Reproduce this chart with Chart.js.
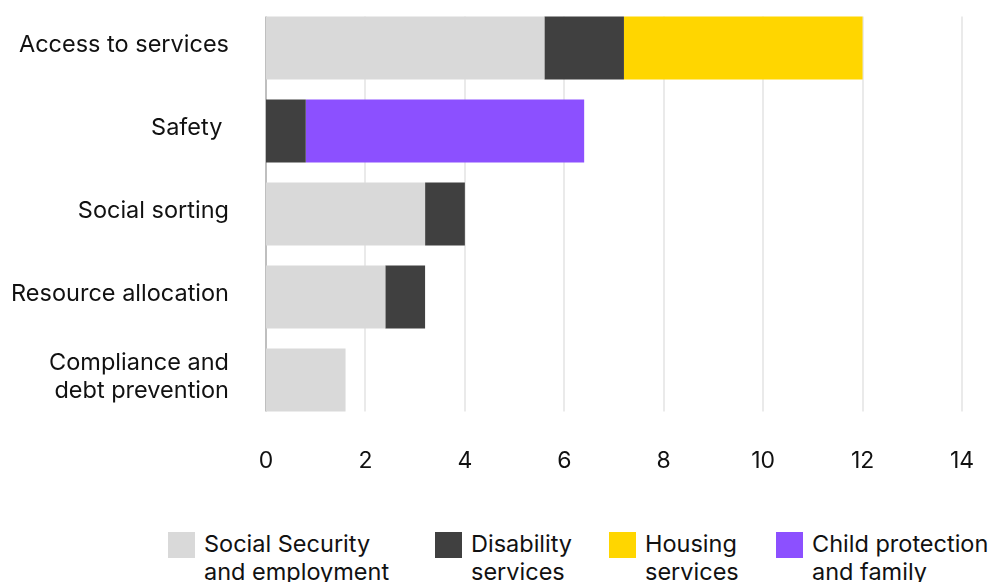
<!DOCTYPE html>
<html>
<head>
<meta charset="utf-8">
<script src="https://cdn.jsdelivr.net/npm/chart.js@4/dist/chart.umd.min.js"></script>
<style>
  html, body { margin: 0; padding: 0; background: #fff; overflow: hidden; }
  #wrap { position: relative; width: 992px; height: 582px; overflow: hidden; font-family: Inter, sans-serif; }
  #chart-box { position: absolute; left: 0; top: 0; width: 992px; height: 500px; }
  #legend { position: absolute; left: 168px; top: 530px; height: 60px; }
  .lg-item { position: absolute; top: 0; display: flex; align-items: flex-start; }
  .lg-item:nth-child(1) { left: 0; }
  .lg-item:nth-child(2) { left: 267px; }
  .lg-item:nth-child(3) { left: 441px; }
  .lg-item:nth-child(4) { left: 608px; }
  .lg-box { width: 27px; height: 26px; margin-top: 2px; margin-right: 9px; flex: none; }
  .lg-text { font-size: 23.5px; line-height: 28px; color: #111; white-space: pre; }
</style>
</head>
<body>
<div id="wrap">
  <div id="chart-box"><canvas id="chart"></canvas></div>
  <div id="legend"></div>
</div>
<script>
// categories (top to bottom)
const categories = [
    'Access to services',
    'Safety ',
    'Social sorting',
    'Resource allocation',
    ['Compliance and', 'debt prevention']
];

// series values, one per category
const socialSecurity = [5.6, 0, 3.2, 2.4, 1.6];
const disability     = [1.6, 0.8, 0.8, 0.8, 0];
const housing        = [4.8, 0, 0, 0, 0];
const childProtection = [0, 5.6, 0, 0, 0];

const seriesNames = [
    ['Social Security', 'and employment'],
    ['Disability', 'services'],
    ['Housing', 'services'],
    ['Child protection', 'and family']
];
const seriesColors = ['#D9D9D9', '#404040', '#FFD600', '#8C50FF'];

const xTicks = [0, 2, 4, 6, 8, 10, 12, 14];

const FONT = 'Inter, sans-serif';

// grid lines only span from first bar top to last bar bottom
const shortGrid = {
    id: 'shortGrid',
    beforeDatasetsDraw(chart) {
        const ctx = chart.ctx;
        const x = chart.scales.x;
        const bars = chart.getDatasetMeta(0).data;
        const top = bars[0].y - bars[0].height / 2;
        const bottom = bars[bars.length - 1].y + bars[bars.length - 1].height / 2;
        ctx.save();
        xTicks.forEach((v, i) => {
            const px = Math.round(x.getPixelForValue(v));
            ctx.strokeStyle = i === 0 ? '#BFBFBF' : '#E3E3E3';
            ctx.lineWidth = i === 0 ? 2 : 1.5;
            ctx.beginPath();
            ctx.moveTo(px, top);
            ctx.lineTo(px, bottom);
            ctx.stroke();
        });
        ctx.restore();
    }
};

const datasets = [socialSecurity, disability, housing, childProtection].map((vals, i) => ({
    label: seriesNames[i].join(' '),
    data: vals,
    backgroundColor: seriesColors[i],
    borderWidth: 0,
    barPercentage: 0.76,
    categoryPercentage: 1
}));

new Chart(document.getElementById('chart'), {
    type: 'bar',
    data: { labels: categories, datasets },
    plugins: [shortGrid],
    options: {
        indexAxis: 'y',
        responsive: true,
        maintainAspectRatio: false,
        animation: false,
        layout: { padding: { top: 6.5, right: 30, left: 0, bottom: 0 } },
        plugins: {
            legend: { display: false },
            tooltip: { enabled: false }
        },
        scales: {
            x: {
                stacked: true,
                min: 0,
                max: 14,
                afterBuildTicks: (s) => { s.ticks = xTicks.map(v => ({ value: v })); },
                afterFit: (s) => { s.height = 78.5; s.paddingLeft = 0; s.paddingRight = 0; },
                grid: { display: false },
                border: { display: false },
                ticks: {
                    padding: 18,
                    color: '#111',
                    maxRotation: 0,
                    font: { family: FONT, size: 23 }
                }
            },
            y: {
                stacked: true,
                afterFit: (s) => { s.width = 266; s.paddingTop = 0; s.paddingBottom = 0; },
                grid: { display: false },
                border: { display: false },
                ticks: {
                    padding: 29,
                    labelOffset: -3,
                    color: '#111',
                    font: { family: FONT, size: 23.5, lineHeight: 1.19 }
                }
            }
        }
    }
});

// HTML legend (labels wrap onto two lines)
const legend = document.getElementById('legend');
seriesNames.forEach((name, i) => {
    const item = document.createElement('div');
    item.className = 'lg-item';
    item.innerHTML = '<div class="lg-box" style="background:' + seriesColors[i] + '"></div>' +
        '<div class="lg-text">' + name.join('\n') + '</div>';
    legend.appendChild(item);
});
</script>
</body>
</html>
